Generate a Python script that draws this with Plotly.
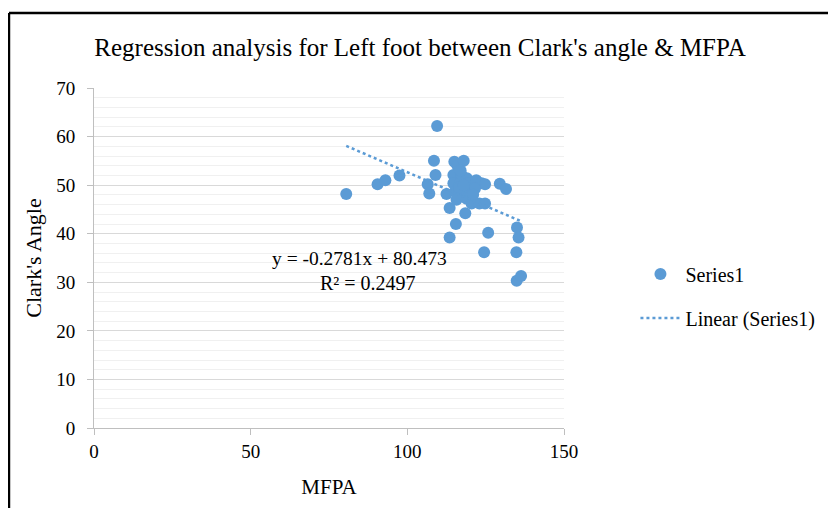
import plotly.graph_objects as go

mfpa = [80.5, 90.5, 93.0, 97.5, 106.5, 107.0, 108.5, 109.0, 109.5, 112.5,
        113.5, 113.5, 115.5, 118.5, 115.0, 116.0, 118.0, 114.7, 117.3, 119.0,
        114.7, 116.8, 119.5, 122.0, 123.7, 124.8, 115.2, 117.9, 120.0, 121.6,
        115.7, 118.9, 120.5, 123.0, 124.8, 125.8, 124.5, 129.5, 131.5, 135.0,
        135.5, 134.8, 134.9, 136.3, 116.5, 118.0, 121.0, 117.0]
clark = [48.2, 50.2, 51.0, 52.0, 50.2, 48.3, 55.0, 52.1, 62.2, 48.2,
         45.3, 39.2, 42.0, 44.2, 54.8, 54.0, 55.0, 52.1, 52.1, 51.4,
         50.4, 50.4, 50.4, 51.0, 50.4, 50.2, 48.7, 48.7, 49.0, 49.3,
         47.0, 47.2, 46.2, 46.2, 46.2, 40.2, 36.2, 50.3, 49.2, 41.3,
         39.2, 36.2, 30.3, 31.3, 49.5, 50.0, 48.0, 53.0]

slope = -0.2781
intercept = 80.473
r_squared = 0.2497

title_text = "Regression analysis for Left foot between Clark's angle & MFPA"
x_title = "MFPA"
y_title = "Clark's Angle"
x_ticks = [0, 50, 100, 150]
y_ticks = [0, 10, 20, 30, 40, 50, 60, 70]

FONT = "Liberation Serif, Times New Roman, serif"
BLUE = "#5b9bd5"

x_min, x_max = min(mfpa), max(mfpa)
trend_x = [x_min, x_max]
trend_y = [slope * v + intercept for v in trend_x]

fig = go.Figure()
fig.add_trace(go.Scatter(
    x=mfpa, y=clark, mode="markers", name="Series1",
    marker=dict(color=BLUE, size=12, line=dict(width=0)),
    legendgroup="a",
))
fig.add_trace(go.Scatter(
    x=trend_x, y=trend_y, mode="lines", name="Linear (Series1)",
    line=dict(color=BLUE, width=2.5, dash="dot"),
    legendgroup="b",
))

eq_text = f"y = {slope}x + {intercept}"
fig.add_annotation(x=84.6, y=34.8, xref="x", yref="y", text=eq_text,
                   showarrow=False, font=dict(family=FONT, size=19.5, color="#000"))
fig.add_annotation(x=87.4, y=29.9, xref="x", yref="y", text=f"R² = {r_squared}",
                   showarrow=False, font=dict(family=FONT, size=20, color="#000"))

# outer border (top and left edges visible)
fig.add_shape(type="line", xref="paper", yref="paper",
              x0=-0.1809, x1=1.7, y0=1.2206, y1=1.2206,
              line=dict(color="#000", width=2.5))
fig.add_shape(type="line", xref="paper", yref="paper",
              x0=-0.1809, x1=-0.1809, y0=1.2206, y1=-0.3,
              line=dict(color="#000", width=2.5))

fig.update_layout(
    width=836, height=508,
    margin=dict(l=86, r=280, t=80, b=88),
    paper_bgcolor="white", plot_bgcolor="white",
    font=dict(family=FONT, color="#000"),
    title=dict(text=title_text, x=412 / 836, xanchor="center", xref="container",
               y=1 - 39 / 508, yanchor="middle", yref="container",
               font=dict(family=FONT, size=25, color="#000")),
    showlegend=True,
    legend=dict(x=1.152, xanchor="left", y=0.388, yanchor="middle",
                font=dict(family=FONT, size=20, color="#000"),
                traceorder="grouped", tracegroupgap=15,
                bgcolor="rgba(0,0,0,0)", itemwidth=40),
    xaxis=dict(range=[0, 150], tickvals=x_ticks, showgrid=False, zeroline=False,
               showline=True, linecolor="#bfbfbf", linewidth=1,
               ticks="outside", ticklen=6, tickcolor="#bfbfbf",
               tickfont=dict(family=FONT, size=19, color="#000"),
               title=dict(text=x_title, font=dict(family=FONT, size=21, color="#000"), standoff=18)),
    yaxis=dict(range=[0, 70], tickvals=y_ticks, showgrid=True, gridcolor="#d9d9d9",
               gridwidth=1, zeroline=False,
               showline=True, linecolor="#bfbfbf", linewidth=1,
               ticks="outside", ticklen=6, tickcolor="#bfbfbf",
               ticklabelstandoff=8,
               tickfont=dict(family=FONT, size=19, color="#000"),
               minor=dict(dtick=2, tick0=0, showgrid=True, gridcolor="#f0f0f0", gridwidth=1),
               title=dict(text=y_title, font=dict(family=FONT, size=22, color="#000"), standoff=8)),
)

fig.write_html("out.html")
